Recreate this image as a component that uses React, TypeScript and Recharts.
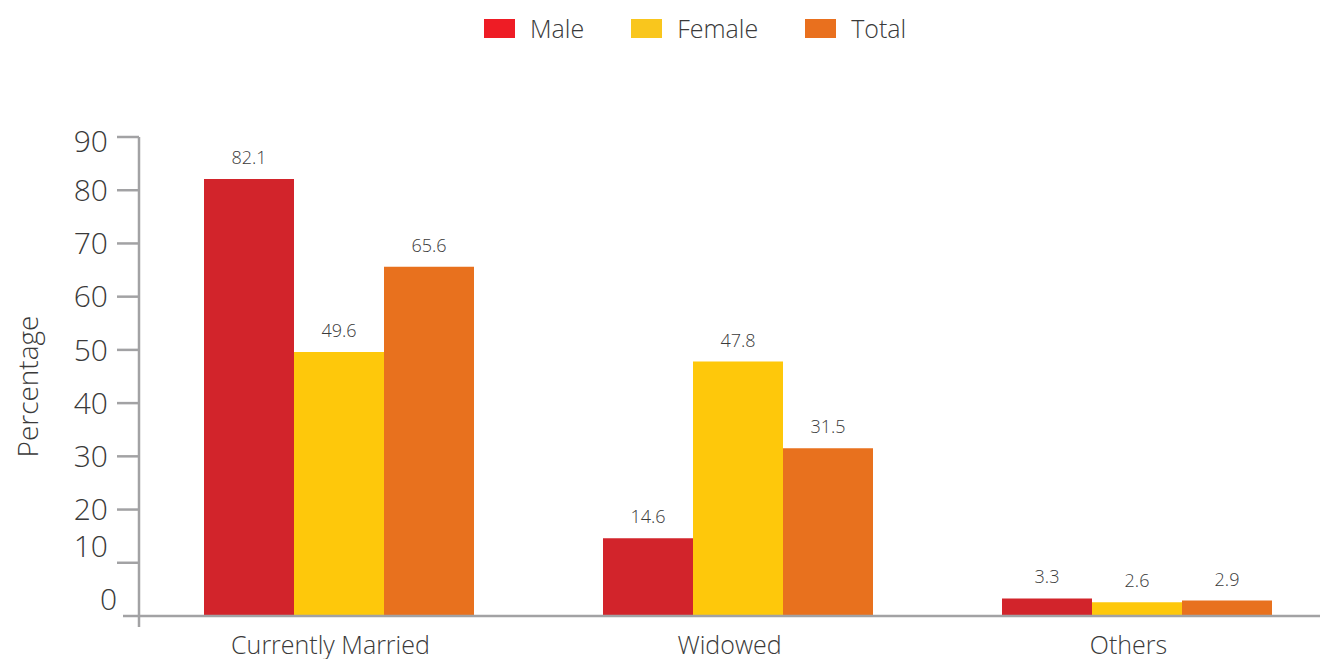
import React from "react";
import { Bar, BarChart, LabelList, Legend, XAxis, YAxis } from "recharts";

const categories = ["Currently Married", "Widowed", "Others"];
const seriesNames = ["Male", "Female", "Total"];
const maleValues = [82.1, 14.6, 3.3];
const femaleValues = [49.6, 47.8, 2.6];
const totalValues = [65.6, 31.5, 2.9];
const yTicks = [0, 10, 20, 30, 40, 50, 60, 70, 80, 90];

const data = categories.map((name, i) => ({
  name,
  Male: maleValues[i],
  Female: femaleValues[i],
  Total: totalValues[i],
}));

const FONT = "'Open Sans', 'Noto Sans', sans-serif";
const TEXT = "#3a3a3a";
const AXIS = "#a2a2a4";

const barColors: Record<string, string> = {
  Male: "#d2242b",
  Female: "#fec80b",
  Total: "#e8711e",
};
const legendColors: Record<string, string> = {
  Male: "#ee1c25",
  Female: "#f9c61d",
  Total: "#e9701e",
};

const YTick = ({ x, y, payload }: any) => {
  const v = payload.value;
  // labels of the lowest two ticks sit higher in the original
  const shift = v <= 10 ? -17 : v === 90 ? 4 : 0;
  return (
    <g>
      {v === 0 ? (
        <>
          <line x1={x - 16} y1={y} x2={x} y2={y} stroke={AXIS} strokeWidth={2.5} />
          <line x1={x} y1={y} x2={x} y2={y + 11} stroke={AXIS} strokeWidth={2.5} />
        </>
      ) : (
        <line x1={x - 22} y1={y} x2={x} y2={y} stroke={AXIS} strokeWidth={2.5} />
      )}
      <text
        x={v === 0 ? x - 22 : x - 31}
        y={y + shift}
        dy="0.36em"
        textAnchor="end"
        fontSize={30}
        fontFamily={FONT}
        fontWeight={300}
        fill={TEXT}
      >
        {v}
      </text>
    </g>
  );
};

const XTick = ({ x, y, payload }: any) => (
  <text
    x={x - 8}
    y={y + 38}
    textAnchor="middle"
    fontSize={25}
    fontFamily={FONT}
    fontWeight={300}
    fill={TEXT}
  >
    {payload.value}
  </text>
);

const renderLegend = ({ payload }: any) => {
  const items = seriesNames.filter((n) =>
    (payload || []).some((p: any) => p.value === n)
  );
  return (
    <div style={{ display: "flex", alignItems: "center", fontFamily: FONT }}>
      {items.map((name) => (
        <div
          key={name}
          style={{ display: "flex", alignItems: "center", marginRight: 47 }}
        >
          <div
            style={{
              width: 31,
              height: 19,
              background: legendColors[name],
              marginRight: 15,
            }}
          />
          <span style={{ fontSize: 25, fontWeight: 300, color: TEXT, lineHeight: "30px" }}>
            {name}
          </span>
        </div>
      ))}
    </div>
  );
};

export default function App() {
  return (
    <div
      style={{
        position: "absolute",
        left: 0,
        top: 0,
        width: 1320,
        height: 659,
        overflow: "hidden",
        background: "#fff",
      }}
    >
      <BarChart
        width={1336}
        height={659}
        data={data}
        margin={{ top: 137, right: 0, bottom: 0, left: 0 }}
        barSize={90}
        barGap={0}
      >
        <Legend
          verticalAlign="middle"
          align="center"
          layout="horizontal"
          content={renderLegend}
          wrapperStyle={{ top: 13, left: 484, width: "auto" }}
        />
        <XAxis
          dataKey="name"
          height={43}
          axisLine={{ stroke: AXIS, strokeWidth: 2.5 }}
          tickLine={false}
          tickSize={0}
          tickMargin={0}
          tick={<XTick />}
          interval={0}
        />
        <YAxis
          width={139}
          domain={[0, 90]}
          ticks={yTicks}
          interval={0}
          axisLine={{ stroke: AXIS, strokeWidth: 2.5 }}
          tickLine={false}
          tickSize={0}
          tickMargin={0}
          tick={<YTick />}
          label={{
            content: ({ viewBox }: any) => {
              const cx = 27;
              const cy = viewBox.y + viewBox.height / 2 + 10;
              return (
                <text
                  x={cx}
                  y={cy}
                  transform={`rotate(-90 ${cx} ${cy})`}
                  textAnchor="middle"
                  dominantBaseline="central"
                  fontSize={28}
                  fontFamily={FONT}
                  fontWeight={300}
                  fill={TEXT}
                >
                  Percentage
                </text>
              );
            },
          }}
        />
        {seriesNames.map((key) => (
          <Bar key={key} dataKey={key} fill={barColors[key]} isAnimationActive={false}>
            <LabelList
              dataKey={key}
              position="top"
              offset={15}
              fontSize={18}
              fontFamily={FONT}
              fontWeight={300}
              fill={TEXT}
            />
          </Bar>
        ))}
      </BarChart>
    </div>
  );
}
